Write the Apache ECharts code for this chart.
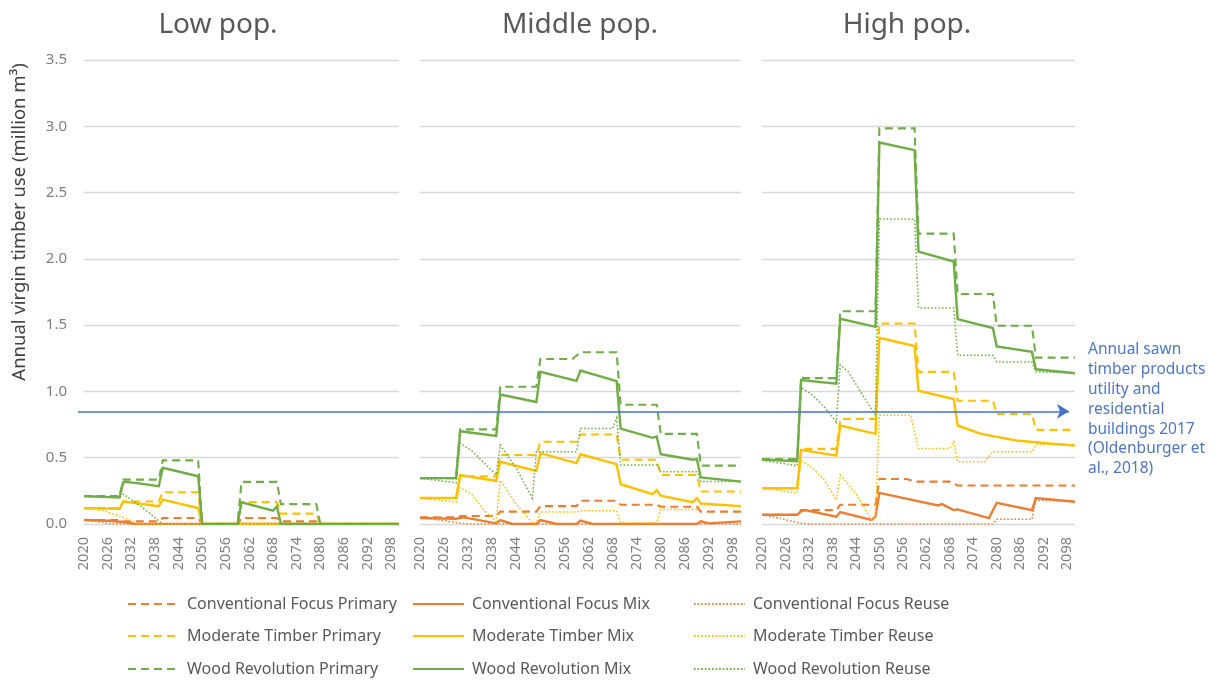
<!DOCTYPE html>
<html>
<head>
<meta charset="utf-8">
<script src="https://cdn.jsdelivr.net/npm/echarts@6/dist/echarts.min.js"></script>
<style>
  html, body { margin: 0; padding: 0; background: #ffffff; }
  #chart { width: 1217px; height: 680px; }
</style>
</head>
<body>
<div id="chart"></div>
<script>
// ---- labels ----
const panelTitles = ['Low pop.', 'Middle pop.', 'High pop.'];
const yAxisTitle = 'Annual virgin timber use (million m³)';
const tickYears = [2020, 2026, 2032, 2038, 2044, 2050, 2056, 2062, 2068, 2074, 2080, 2086, 2092, 2098];
const scenarios = ['Conventional Focus', 'Moderate Timber', 'Wood Revolution'];
const variants = ['Primary', 'Mix', 'Reuse'];
const referenceValue = 0.85;
const referenceNote = ['Annual sawn', 'timber products', 'utility and', 'residential', 'buildings 2017', '(Oldenburger et', 'al., 2018)'];

// ---- Low population: [year, million m3] ----
const lowConvPrimary = [[2020,0.03],[2029,0.03],[2030,0.02],[2039,0.02],[2040,0.045],[2049,0.045],[2050,0],[2059,0],[2060,0.045],[2069,0.045],[2070,0.02],[2079,0.02],[2080,0],[2100,0]];
const lowConvMix = [[2020,0.03],[2026,0.025],[2030,0.015],[2033,0],[2100,0]];
const lowConvReuse = [[2020,0.03],[2024,0.015],[2027,0],[2100,0]];
const lowModPrimary = [[2020,0.12],[2029,0.12],[2030,0.17],[2039,0.17],[2040,0.24],[2049,0.24],[2050,0],[2059,0],[2060,0.165],[2069,0.165],[2070,0.078],[2079,0.078],[2080,0],[2100,0]];
const lowModMix = [[2020,0.12],[2029,0.115],[2030,0.17],[2039,0.134],[2040,0.184],[2049,0.12],[2050,0],[2100,0]];
const lowModReuse = [[2020,0.12],[2025,0.1],[2030,0.05],[2034,0],[2100,0]];
const lowWrPrimary = [[2020,0.21],[2029,0.21],[2030,0.335],[2039,0.335],[2040,0.48],[2049,0.48],[2050,0],[2059,0],[2060,0.318],[2069,0.318],[2070,0.15],[2079,0.15],[2080,0],[2100,0]];
const lowWrMix = [[2020,0.21],[2029,0.2],[2030,0.318],[2033,0.31],[2039,0.285],[2040,0.424],[2049,0.36],[2050,0],[2059,0],[2060,0.164],[2068,0.1],[2069,0.134],[2070,0],[2100,0]];
const lowWrReuse = [[2020,0.21],[2029,0.2],[2030,0.225],[2035,0.12],[2040,0],[2100,0]];

// ---- Middle population ----
const midConvPrimary = [[2020,0.05],[2029,0.05],[2030,0.06],[2039,0.06],[2040,0.093],[2049,0.093],[2050,0.135],[2059,0.135],[2060,0.175],[2069,0.175],[2070,0.145],[2079,0.145],[2080,0.13],[2089,0.13],[2090,0.093],[2100,0.093]];
const midConvMix = [[2020,0.045],[2029,0.04],[2031,0.05],[2039,0.005],[2040,0.03],[2043,0],[2049,0],[2050,0.03],[2054,0],[2059,0],[2060,0.025],[2063,0],[2089,0],[2090,0.02],[2092,0.005],[2100,0.02]];
const midConvReuse = [[2020,0.05],[2025,0.03],[2030,0.005],[2032,0],[2100,0]];
const midModPrimary = [[2020,0.196],[2029,0.196],[2030,0.36],[2039,0.36],[2040,0.52],[2049,0.52],[2050,0.62],[2059,0.62],[2060,0.675],[2069,0.675],[2070,0.485],[2079,0.485],[2080,0.37],[2089,0.37],[2090,0.245],[2100,0.245]];
const midModMix = [[2020,0.196],[2029,0.196],[2030,0.368],[2039,0.326],[2040,0.469],[2049,0.40],[2050,0.534],[2059,0.459],[2060,0.526],[2069,0.451],[2070,0.30],[2078,0.226],[2079,0.255],[2080,0.213],[2088,0.165],[2089,0.195],[2090,0.155],[2100,0.135]];
const midModReuse = [[2020,0.196],[2029,0.165],[2030,0.275],[2033,0.22],[2036,0.1],[2039,0.02],[2040,0.33],[2044,0.15],[2048,0.01],[2049,0.01],[2050,0.09],[2059,0.09],[2060,0.1],[2069,0.1],[2070,0.01],[2079,0.01],[2080,0.11],[2089,0.11],[2090,0.145],[2100,0.135]];
const midWrPrimary = [[2020,0.346],[2029,0.346],[2030,0.714],[2039,0.714],[2040,1.035],[2049,1.035],[2050,1.245],[2058,1.245],[2060,1.295],[2069,1.295],[2070,0.9],[2079,0.9],[2080,0.68],[2089,0.68],[2090,0.44],[2100,0.44]];
const midWrMix = [[2020,0.346],[2029,0.346],[2030,0.70],[2039,0.664],[2040,0.977],[2049,0.92],[2050,1.148],[2059,1.08],[2060,1.158],[2069,1.078],[2070,0.72],[2078,0.65],[2079,0.66],[2080,0.526],[2088,0.485],[2089,0.49],[2090,0.351],[2100,0.32]];
const midWrReuse = [[2020,0.346],[2029,0.31],[2030,0.61],[2033,0.55],[2036,0.46],[2039,0.37],[2040,0.596],[2044,0.42],[2048,0.194],[2049,0.545],[2059,0.545],[2060,0.72],[2068,0.72],[2069,0.8],[2070,0.445],[2079,0.445],[2080,0.395],[2089,0.395],[2090,0.32],[2100,0.32]];

// ---- High population ----
const highConvPrimary = [[2020,0.07],[2029,0.07],[2030,0.105],[2039,0.105],[2040,0.145],[2049,0.145],[2050,0.34],[2057,0.34],[2059,0.32],[2068,0.32],[2070,0.29],[2100,0.29]];
const highConvMix = [[2020,0.07],[2029,0.07],[2030,0.095],[2031,0.105],[2039,0.055],[2040,0.09],[2048,0.03],[2049,0.055],[2050,0.235],[2065,0.14],[2066,0.15],[2069,0.105],[2070,0.11],[2078,0.045],[2080,0.16],[2089,0.105],[2090,0.195],[2100,0.168]];
const highConvReuse = [[2020,0.07],[2025,0.04],[2030,0.005],[2032,0],[2079,0],[2080,0.035],[2089,0.035],[2090,0.18],[2100,0.17]];
const highModPrimary = [[2020,0.27],[2029,0.27],[2030,0.567],[2039,0.567],[2040,0.793],[2049,0.793],[2050,1.512],[2059,1.512],[2060,1.1475],[2069,1.1475],[2070,0.93],[2079,0.93],[2080,0.83],[2089,0.83],[2090,0.71],[2100,0.71]];
const highModMix = [[2020,0.27],[2029,0.27],[2030,0.559],[2039,0.516],[2040,0.743],[2049,0.68],[2050,1.405],[2059,1.3425],[2060,1.005],[2069,0.9425],[2070,0.743],[2076,0.68],[2085,0.63],[2094,0.605],[2100,0.592]];
const highModReuse = [[2020,0.27],[2029,0.235],[2030,0.48],[2033,0.42],[2036,0.33],[2039,0.18],[2040,0.37],[2044,0.23],[2048,0.03],[2049,0.05],[2050,0.82],[2058,0.82],[2060,0.57],[2068,0.57],[2069,0.62],[2070,0.47],[2077,0.47],[2079,0.545],[2089,0.545],[2090,0.6],[2100,0.6]];
const highWrPrimary = [[2020,0.49],[2029,0.49],[2030,1.1],[2039,1.1],[2040,1.605],[2049,1.605],[2050,2.984],[2059,2.984],[2060,2.19],[2069,2.19],[2070,1.735],[2079,1.735],[2080,1.495],[2089,1.495],[2090,1.255],[2100,1.255]];
const highWrMix = [[2020,0.486],[2029,0.474],[2030,1.085],[2039,1.058],[2040,1.548],[2049,1.487],[2050,2.878],[2059,2.82],[2060,2.055],[2069,1.98],[2070,1.546],[2079,1.478],[2080,1.34],[2089,1.298],[2090,1.167],[2100,1.137]];
const highWrReuse = [[2020,0.48],[2029,0.44],[2030,1.03],[2033,0.97],[2036,0.88],[2039,0.77],[2040,1.2],[2042,1.15],[2049,0.82],[2050,2.3],[2059,2.3],[2060,1.63],[2069,1.63],[2070,1.273],[2079,1.273],[2080,1.222],[2089,1.222],[2090,1.148],[2100,1.14]];

// lookup table: panel -> scenario -> variant
const panelSeries = [
  [[lowConvPrimary, lowConvMix, lowConvReuse], [lowModPrimary, lowModMix, lowModReuse], [lowWrPrimary, lowWrMix, lowWrReuse]],
  [[midConvPrimary, midConvMix, midConvReuse], [midModPrimary, midModMix, midModReuse], [midWrPrimary, midWrMix, midWrReuse]],
  [[highConvPrimary, highConvMix, highConvReuse], [highModPrimary, highModMix, highModReuse], [highWrPrimary, highWrMix, highWrReuse]]
];

// ---- styling ----
const FONT = 'Noto Sans';
const scenarioColors = ['#ED7D31', '#FFC000', '#70AD47'];
const variantLine = [
  { type: [8, 5], width: 2.1 },
  { type: 'solid', width: 2.4 },
  { type: [1.6, 2], width: 1.5 }
];
const panelGrids = [
  { left: 84, width: 315 },
  { left: 420, width: 321 },
  { left: 762, width: 313 }
];
const gridTop = 60, gridHeight = 464;
const titleCenters = [218, 580, 907];

const chart = echarts.init(document.getElementById('chart'), null, { renderer: 'canvas' });

const grid = [], xAxis = [], yAxis = [], series = [];
panelGrids.forEach((g, p) => {
  grid.push({ left: g.left, width: g.width, top: gridTop, height: gridHeight, containLabel: false });
  xAxis.push({
    type: 'value', gridIndex: p, min: 2020, max: 2100,
    axisLine: { show: false }, axisTick: { show: false }, splitLine: { show: false },
    axisLabel: {
      customValues: tickYears, rotate: 90, margin: 13,
      fontFamily: FONT, fontSize: 14.5, color: '#7F7F7F',
      formatter: v => String(v)
    }
  });
  yAxis.push({
    type: 'value', gridIndex: p, min: 0, max: 3.5, interval: 0.5,
    axisLine: { show: false }, axisTick: { show: false },
    splitLine: { show: true, lineStyle: { color: '#D9D9D9', width: 1.4 } },
    axisLabel: {
      show: p === 0, margin: 17, fontFamily: FONT, fontSize: 15, color: '#7F7F7F',
      formatter: v => v.toFixed(1)
    }
  });
  scenarios.forEach((sc, s) => {
    variants.forEach((va, v) => {
      series.push({
        name: sc + ' ' + va,
        type: 'line',
        xAxisIndex: p, yAxisIndex: p,
        data: panelSeries[p][s][v],
        symbol: 'none', showSymbol: false,
        lineStyle: { color: scenarioColors[s], type: variantLine[v].type, width: variantLine[v].width, cap: 'butt', join: 'miter' },
        itemStyle: { color: scenarioColors[s] },
        silent: true
      });
    });
  });
});

// overlay coordinate system for the reference arrow spanning all panels
grid.push({ left: 78, width: 991, top: gridTop, height: gridHeight });
xAxis.push({ type: 'value', gridIndex: 3, min: 0, max: 1, show: false });
yAxis.push({ type: 'value', gridIndex: 3, min: 0, max: 3.5, show: false });
series.push({
  name: 'reference', type: 'line', xAxisIndex: 3, yAxisIndex: 3, data: [],
  silent: true,
  markLine: {
    silent: true, animation: false,
    symbol: ['none', 'arrow'], symbolSize: [11, 12],
    label: { show: false },
    lineStyle: { color: '#4472C4', width: 1.5, type: 'solid' },
    data: [[{ coord: [0, referenceValue] }, { coord: [1, referenceValue] }]]
  }
});

// legend: three columns, three rows (line samples only, no markers)
const legendCols = [127, 412, 693];
const legendRows = [604, 636, 669];
const legend = [];
scenarios.forEach((sc, s) => {
  variants.forEach((va, v) => {
    legend.push({
      data: [sc + ' ' + va],
      left: legendCols[v], top: legendRows[s] - 8,
      itemWidth: 51, itemHeight: 14, padding: 0,
      selectedMode: false,
      itemStyle: { opacity: 0, borderWidth: 0 },
      textStyle: { fontFamily: FONT, fontSize: 16, color: '#595959', padding: [0, 0, 0, 3] }
    });
  });
});

const graphic = [];
panelTitles.forEach((t, i) => {
  graphic.push({
    type: 'text', x: titleCenters[i], y: 25, silent: true,
    style: { text: t, fontFamily: FONT, fontSize: 28, fill: '#595959', textAlign: 'center', textVerticalAlign: 'middle' }
  });
});
graphic.push({
  type: 'text', x: 20, y: 222, rotation: Math.PI / 2, silent: true,
  style: { text: yAxisTitle, fontFamily: FONT, fontSize: 18.5, fill: '#404040', textAlign: 'center', textVerticalAlign: 'middle' }
});
graphic.push({
  type: 'text', x: 1088, y: 340, silent: true,
  style: { text: referenceNote.join('\n'), fontFamily: FONT, fontSize: 15.5, lineHeight: 19.8, fill: '#4F76C8', textAlign: 'left', textVerticalAlign: 'top' }
});

chart.setOption({
  animation: false,
  backgroundColor: '#ffffff',
  textStyle: { fontFamily: FONT },
  grid, xAxis, yAxis, series, legend, graphic
});
</script>
</body>
</html>
